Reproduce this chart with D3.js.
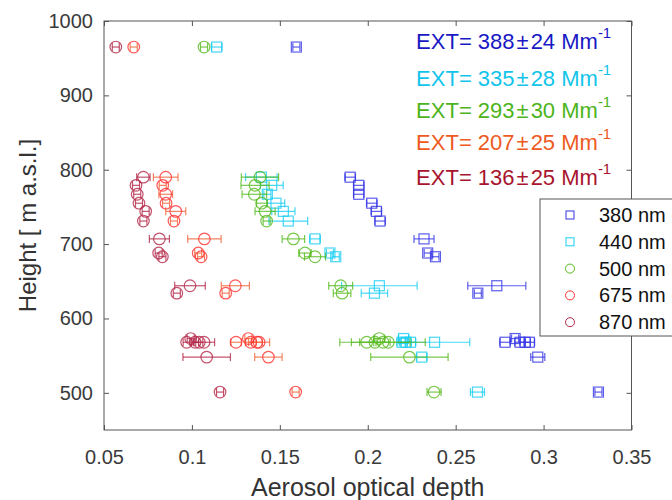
<!DOCTYPE html>
<html>
<head>
<meta charset="utf-8">
<script src="https://cdn.jsdelivr.net/npm/d3@7"></script>
<style>
  body { margin: 0; background: #fff; }
  text { font-family: "Liberation Sans", Arial, sans-serif; }
</style>
</head>
<body>
<div id="chart"></div>
<script>
var width = 672, height = 500;
var plot = { left: 104, right: 631.5, top: 21, bottom: 430 };

// heights of the profile points [m a.s.l.]
var heights = [965, 790, 779, 767, 755, 744, 731, 707, 688, 683, 644, 634, 573, 568, 568, 568, 568, 548, 501];

// aerosol optical depth per wavelength
var aod380 = [0.1594, 0.190, 0.1949, 0.1949, 0.2023, 0.2049, 0.207, 0.232, 0.2341, 0.2385, 0.2734, 0.2626, 0.2838, 0.2781, 0.2866, 0.2895, 0.2919, 0.2967, 0.3312];
var err380 = [0.002, 0.003, 0.003, 0.003, 0.003, 0.003, 0.003, 0.0057, 0.002, 0.002, 0.0165, 0.002, 0.002, 0.003, 0.003, 0.003, 0.003, 0.004, 0.002];

var aod440 = [0.1141, 0.1395, 0.1454, 0.1429, 0.1478, 0.152, 0.1548, 0.170, 0.1785, 0.1818, 0.2066, 0.2038, 0.2204, 0.2195, 0.2243, 0.2218, 0.238, 0.2307, 0.2624];
var err440 = [0.003, 0.009, 0.0065, 0.002, 0.005, 0.0066, 0.011, 0.003, 0.002, 0.002, 0.0215, 0.0075, 0.003, 0.003, 0.003, 0.003, 0.02, 0.003, 0.004];

var aod500 = [0.1069, 0.1387, 0.1359, 0.1355, 0.1397, 0.1416, 0.1425, 0.1577, 0.1643, 0.170, 0.1846, 0.1854, 0.2066, 0.1994, 0.2041, 0.2117, 0.2087, 0.2237, 0.2377];
var err500 = [0.002, 0.0106, 0.008, 0.007, 0.003, 0.0057, 0.002, 0.0064, 0.0035, 0.006, 0.0068, 0.005, 0.003, 0.004, 0.02, 0.021, 0.004, 0.022, 0.004];

var aod675 = [0.0669, 0.0851, 0.0834, 0.0851, 0.0853, 0.0908, 0.0898, 0.1071, 0.1036, 0.1052, 0.1247, 0.1192, 0.1321, 0.1251, 0.1335, 0.1369, 0.1382, 0.1435, 0.159];
var err675 = [0.002, 0.007, 0.002, 0.0039, 0.002, 0.0057, 0.002, 0.0095, 0.002, 0.002, 0.008, 0.002, 0.002, 0.003, 0.003, 0.003, 0.006, 0.0078, 0.002];

var aod870 = [0.0567, 0.0724, 0.0682, 0.0689, 0.0699, 0.0737, 0.0724, 0.0815, 0.0811, 0.0832, 0.0989, 0.0914, 0.0993, 0.097, 0.1018, 0.1042, 0.1069, 0.1084, 0.116];
var err870 = [0.002, 0.0038, 0.002, 0.002, 0.002, 0.002, 0.002, 0.0057, 0.002, 0.002, 0.0087, 0.002, 0.002, 0.002, 0.002, 0.002, 0.006, 0.0135, 0.002];

var wavelengths = ["380 nm", "440 nm", "500 nm", "675 nm", "870 nm"];
var extValues = [388, 335, 293, 207, 136];
var extErrors = [24, 28, 30, 25, 25];

var xTicks = [0.05, 0.1, 0.15, 0.2, 0.25, 0.3, 0.35];
var yTicks = [500, 600, 700, 800, 900, 1000];

var series = [
    { name: wavelengths[0], aod: aod380, err: err380, shape: "square", color: "#3434e6", errColor: "#3434e6", textColor: "#1818c4" },
    { name: wavelengths[1], aod: aod440, err: err440, shape: "square", color: "#16cdf2", errColor: "#16cdf2", textColor: "#12c4ea" },
    { name: wavelengths[2], aod: aod500, err: err500, shape: "circle", color: "#56ba1e", errColor: "#56ba1e", textColor: "#4cb41a" },
    { name: wavelengths[3], aod: aod675, err: err675, shape: "circle", color: "#ff3030", errColor: "#f2643a", textColor: "#ee5a22" },
    { name: wavelengths[4], aod: aod870, err: err870, shape: "circle", color: "#b32848", errColor: "#b32848", textColor: "#a8142e" }
];

var x = d3.scaleLinear().domain([0.05, 0.35]).range([plot.left, plot.right]);
var y = d3.scaleLinear().domain([450, 1000]).range([plot.bottom, plot.top]);

var svg = d3.select("#chart")
    .append("svg")
    .attr("width", width)
    .attr("height", height);

// axes, MATLAB style: ticks pointing inwards, box on
svg.append("g")
    .attr("transform", "translate(0," + plot.bottom + ")")
    .call(d3.axisBottom(x).tickValues(xTicks).tickFormat(d3.format("")).tickSizeInner(-5).tickSizeOuter(0).tickPadding(20));
svg.append("g")
    .attr("transform", "translate(0," + plot.top + ")")
    .call(d3.axisTop(x).tickValues(xTicks).tickFormat("").tickSizeInner(-5).tickSizeOuter(0));
svg.append("g")
    .attr("transform", "translate(" + plot.left + ",0)")
    .call(d3.axisLeft(y).tickValues(yTicks).tickFormat(d3.format("d")).tickSizeInner(-5).tickSizeOuter(0).tickPadding(11));
svg.append("g")
    .attr("transform", "translate(" + plot.right + ",0)")
    .call(d3.axisRight(y).tickValues(yTicks).tickFormat("").tickSizeInner(-5).tickSizeOuter(0));

svg.selectAll(".domain").remove();
svg.selectAll(".tick line").attr("stroke", "#555");
svg.selectAll(".tick text").attr("font-size", "20px").attr("fill", "#3a3a3a")
    .attr("font-family", "'Liberation Sans', Arial, sans-serif");

svg.append("rect")
    .attr("x", plot.left).attr("y", plot.top)
    .attr("width", plot.right - plot.left).attr("height", plot.bottom - plot.top)
    .attr("fill", "none").attr("stroke", "#555").attr("stroke-width", 1);

// axis titles
svg.append("text")
    .attr("x", (plot.left + plot.right) / 2).attr("y", 496)
    .attr("text-anchor", "middle").attr("font-size", "25px").attr("fill", "#333")
    .text("Aerosol optical depth");
svg.append("text")
    .attr("transform", "translate(36," + (plot.top + plot.bottom) / 2 + ") rotate(-90)")
    .attr("text-anchor", "middle").attr("font-size", "24px").attr("fill", "#333")
    .text("Height [ m a.s.l.]");

// series: error bars and markers
series.forEach(function (s) {
    var pts = heights.map(function (h, i) { return { h: h, v: s.aod[i], e: s.err[i] }; });
    var g = svg.append("g").attr("class", "series");
    var eb = g.selectAll(".eb").data(pts).enter().append("g")
        .attr("stroke", s.errColor).attr("stroke-width", 1.2).attr("stroke-opacity", 0.8);
    eb.append("line")
        .attr("x1", function (d) { return x(d.v - d.e); })
        .attr("x2", function (d) { return x(d.v + d.e); })
        .attr("y1", function (d) { return y(d.h); })
        .attr("y2", function (d) { return y(d.h); });
    [-1, 1].forEach(function (sgn) {
        eb.append("line")
            .attr("x1", function (d) { return x(d.v + sgn * d.e); })
            .attr("x2", function (d) { return x(d.v + sgn * d.e); })
            .attr("y1", function (d) { return y(d.h) - 4; })
            .attr("y2", function (d) { return y(d.h) + 4; });
    });
    if (s.shape === "square") {
        g.selectAll(".m").data(pts).enter().append("rect")
            .attr("x", function (d) { return x(d.v) - 5; })
            .attr("y", function (d) { return y(d.h) - 5; })
            .attr("width", 10).attr("height", 10)
            .attr("fill", "none").attr("stroke", s.color).attr("stroke-width", 1.2).attr("stroke-opacity", 0.8);
    } else {
        g.selectAll(".m").data(pts).enter().append("circle")
            .attr("cx", function (d) { return x(d.v); })
            .attr("cy", function (d) { return y(d.h); })
            .attr("r", 5.8)
            .attr("fill", "none").attr("stroke", s.color).attr("stroke-width", 1.2).attr("stroke-opacity", 0.8);
    }
});

// extinction annotations
var extY = [963, 913, 870, 826, 780];
series.forEach(function (s, i) {
    var t = svg.append("text")
        .attr("x", x(0.2275)).attr("y", y(extY[i]))
        .attr("font-size", "22px").attr("fill", s.textColor);
    t.append("tspan").text("EXT= " + extValues[i]);
    t.append("tspan").attr("dx", 2).text("\u00b1");
    t.append("tspan").attr("dx", 2).text(extErrors[i] + " Mm");
    t.append("tspan").attr("font-size", "15px").attr("dy", -11).text("-1");
});

// legend
var legend = svg.append("g").attr("transform", "translate(540,199)");
legend.append("rect")
    .attr("width", 140).attr("height", 137)
    .attr("fill", "#fff").attr("stroke", "#555").attr("stroke-width", 1);
series.forEach(function (s, i) {
    var ly = 16 + i * 26.8;
    if (s.shape === "square") {
        legend.append("rect").attr("x", 26).attr("y", ly - 4).attr("width", 8).attr("height", 8)
            .attr("fill", "none").attr("stroke", s.color).attr("stroke-width", 1);
    } else {
        legend.append("circle").attr("cx", 30).attr("cy", ly).attr("r", 4.5)
            .attr("fill", "none").attr("stroke", s.color).attr("stroke-width", 1);
    }
    legend.append("text").attr("x", 59).attr("y", ly + 7)
        .attr("font-size", "20px").attr("fill", "#111").text(s.name);
});
</script>
</body>
</html>
